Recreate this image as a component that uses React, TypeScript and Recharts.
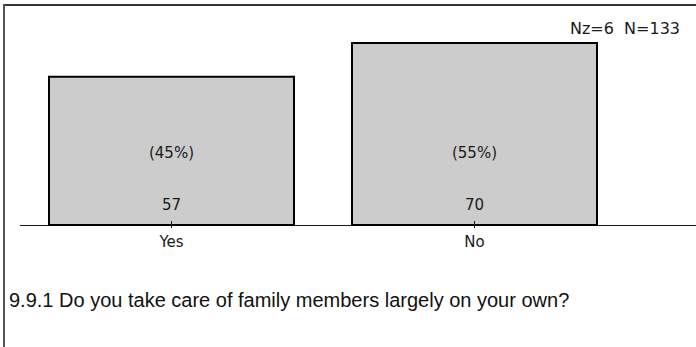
import React from 'react';
import { BarChart, Bar, XAxis, YAxis, LabelList } from 'recharts';

const categories = ['Yes', 'No'];
const counts = [57, 70];
const percents = ['(45%)', '(55%)'];
const nz = 6;
const total = 133;
const question = '9.9.1 Do you take care of family members largely on your own?';

const data = categories.map((c, i) => ({ name: c, count: counts[i], pct: percents[i] }));

const LABEL_FONT = '"DejaVu Sans", Verdana, sans-serif';
const INK = '#1a1a1a';

// tick: short mark crossing the axis, label below
const CatTick = (props: any) => {
  const { x, y, payload } = props;
  return (
    <g>
      <line x1={x} x2={x} y1={y - 4} y2={y + 3} stroke={INK} strokeWidth={1} />
      <text x={x} y={y + 17} textAnchor="middle" dominantBaseline="central"
        fontFamily={LABEL_FONT} fontSize={15} fill={INK}>
        {payload.value}
      </text>
    </g>
  );
};

const InBarLabels = (props: any) => {
  const { x, y, width, height, index } = props;
  const cx = x + width / 2;
  const base = y + height;
  return (
    <g>
      <text x={cx} y={base - 72} textAnchor="middle" dominantBaseline="central"
        fontFamily={LABEL_FONT} fontSize={15} fill={INK}>
        {percents[index]}
      </text>
      <text x={cx} y={base - 20} textAnchor="middle" dominantBaseline="central"
        fontFamily={LABEL_FONT} fontSize={15} fill={INK}>
        {counts[index]}
      </text>
    </g>
  );
};

export default function App() {
  return (
    <div style={{ position: 'absolute', left: 0, top: 0, width: 696, height: 347, background: '#fff', overflow: 'hidden' }}>
      {/* frame */}
      <div style={{ position: 'absolute', left: 3, top: 4, width: 693, height: 1.5, background: '#333' }} />
      <div style={{ position: 'absolute', left: 3, top: 4, width: 1.5, height: 343, background: '#555' }} />
      {/* baseline running across the full width */}
      <div style={{ position: 'absolute', left: 20, top: 224.5, width: 676, height: 1, background: INK }} />

      <BarChart width={696} height={347} data={data} barCategoryGap={29}
        margin={{ top: 17, right: 70, left: 20, bottom: 0 }}>
        <XAxis dataKey="name" axisLine={false} tickLine={false} tickSize={0} tickMargin={0}
          tick={<CatTick />} height={122} />
        <YAxis hide domain={[0, 80]} />
        <Bar dataKey="count" fill="#cccccc" stroke="#000" strokeWidth={2} isAnimationActive={false}>
          <LabelList dataKey="count" content={<InBarLabels />} />
        </Bar>
      </BarChart>

      <div style={{ position: 'absolute', right: 16, top: 19, fontFamily: LABEL_FONT, fontSize: 16, color: INK, whiteSpace: 'pre' }}>
        {`Nz=${nz}  N=${total}`}
      </div>
      <div style={{ position: 'absolute', left: 9, top: 289, fontFamily: '"Liberation Sans", Arial, sans-serif', fontSize: 20, color: '#111' }}>
        {question}
      </div>
    </div>
  );
}
